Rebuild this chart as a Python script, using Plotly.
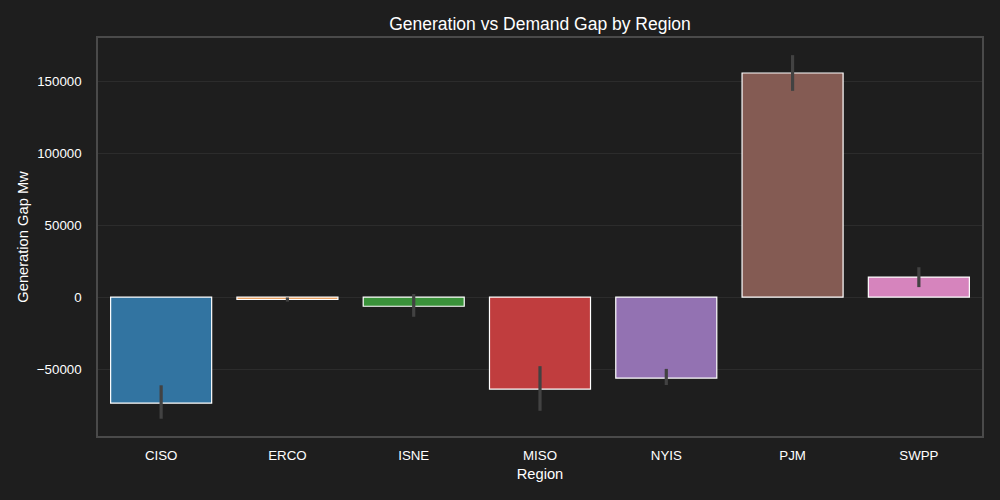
import plotly.graph_objects as go

regions = ["CISO", "ERCO", "ISNE", "MISO", "NYIS", "PJM", "SWPP"]
gap_mean = [-73600, -1600, -6400, -63900, -56300, 155600, 13900]
ci_low = [-84500, -3200, -13700, -79000, -61100, 143200, 6900]
ci_high = [-61300, -300, 2100, -48000, -49900, 168000, 20700]
colors = ["#3274a1", "#e1812c", "#3a923a", "#c03d3e", "#9372b2", "#845b53", "#d684bd"]

err_plus = [h - m for h, m in zip(ci_high, gap_mean)]
err_minus = [m - l for m, l in zip(gap_mean, ci_low)]

bg = "#1e1e1e"
fig = go.Figure()
fig.add_trace(go.Bar(
    x=regions, y=gap_mean, width=0.8,
    marker=dict(color=colors, line=dict(color="white", width=1.2)),
    error_y=dict(type="data", symmetric=False, array=err_plus, arrayminus=err_minus,
                 color="#424242", thickness=3.2, width=0),
    showlegend=False,
))
fig.update_layout(
    width=1000, height=500,
    paper_bgcolor=bg, plot_bgcolor=bg,
    margin=dict(l=98, r=18, t=38, b=64),
    font=dict(family="Liberation Sans, Arial, sans-serif", color="white", size=13.3),
    title=dict(text="Generation vs Demand Gap by Region", x=0.54, xanchor="center",
               y=0.952, yanchor="middle", font=dict(size=17.5, color="white")),
    bargap=0.2,
)
fig.update_xaxes(
    range=[-0.5, 6.5], showgrid=False, showline=True, mirror=True,
    linecolor="#4a4a4a", linewidth=1.5, ticks="", ticklabelstandoff=6,
    title=dict(text="Region", font=dict(size=14.7, color="white"), standoff=7),
    tickfont=dict(size=13.3, color="white"),
)
fig.update_yaxes(
    range=[-96500, 179900], tickvals=[-50000, 0, 50000, 100000, 150000],
    tickformat="d", showgrid=True, gridcolor="#2c2c2c", gridwidth=1, zeroline=False,
    showline=True, mirror=True, linecolor="#4a4a4a", linewidth=1.5, ticks="",
    ticklabelstandoff=12,
    title=dict(text="Generation Gap Mw", font=dict(size=14.7, color="white"), standoff=5),
    tickfont=dict(size=13.3, color="white"),
)
fig.write_html("out.html", config={"displayModeBar": False},
               post_script="document.body.style.margin='0';document.body.style.background='#1e1e1e';")
